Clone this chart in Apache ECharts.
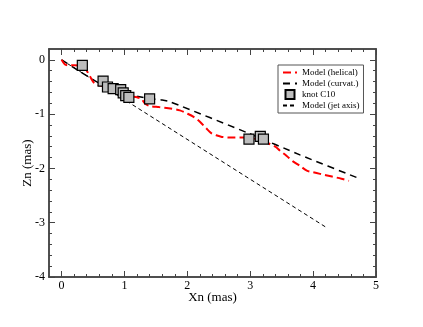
<!DOCTYPE html>
<html><head><meta charset="utf-8">
<script src="https://cdn.jsdelivr.net/npm/echarts@6/dist/echarts.min.js"></script>
<style>html,body{margin:0;padding:0;background:#fff}#c{width:423px;height:327px}</style>
</head><body><div id="c"></div>
<script>
var xMajor = [0, 1, 2, 3, 4, 5];
var xMinor = [0.2, 0.4, 0.6, 0.8, 1.2, 1.4, 1.6, 1.8, 2.2, 2.4, 2.6, 2.8, 3.2, 3.4, 3.6, 3.8, 4.2, 4.4, 4.6, 4.8];
var yMajor = [-4, -3, -2, -1, 0];
var yMinor = [-3.8, -3.6, -3.4, -3.2, -2.8, -2.6, -2.4, -2.2, -1.8, -1.6, -1.4, -1.2, -0.8, -0.6, -0.4, -0.2];

var helical = [[0,0],[0.05,-0.08],[0.1,-0.1],[0.2,-0.1],[0.3,-0.11],[0.37,-0.15],[0.45,-0.3],[0.52,-0.43],[0.6,-0.47],[0.7,-0.49],[0.8,-0.53],[0.9,-0.57],[1.0,-0.63],[1.1,-0.67],[1.2,-0.69],[1.27,-0.72],[1.33,-0.81],[1.4,-0.85],[1.55,-0.87],[1.7,-0.89],[1.88,-0.93],[2.0,-0.99],[2.1,-1.05],[2.2,-1.14],[2.3,-1.26],[2.38,-1.35],[2.46,-1.39],[2.55,-1.42],[2.7,-1.43],[2.9,-1.43],[3.05,-1.45],[3.2,-1.48],[3.31,-1.55],[3.4,-1.6],[3.47,-1.67],[3.58,-1.77],[3.68,-1.87],[3.8,-1.96],[3.9,-2.04],[4.0,-2.07],[4.11,-2.1],[4.3,-2.15],[4.45,-2.19],[4.57,-2.23]];
var curvat = [[0,0],[0.3,-0.22],[0.6,-0.43],[0.8,-0.53],[1.0,-0.61],[1.2,-0.67],[1.4,-0.71],[1.6,-0.74],[1.72,-0.77],[2.99,-1.36],[3.79,-1.75],[4.72,-2.18]];
var jetAxis = [[0,0],[4.2,-3.08]];
var knotX = [0.33, 0.66, 0.73, 0.82, 0.94, 0.98, 1.02, 1.07, 1.40, 2.98, 3.16, 3.21];
var knotY = [-0.10, -0.39, -0.50, -0.53, -0.55, -0.61, -0.66, -0.69, -0.72, -1.46, -1.41, -1.46];
var seriesNames = ['Model (helical)', 'Model (curvat.)', 'knot C10', 'Model (jet axis)'];

var FONT = '"Liberation Serif", "DejaVu Serif", serif';
var axisLineStyle = {color: '#444', width: 1.5};

function xAx(pos, ticks, len, main) {
  return {
    type: 'value', min: -0.2, max: 5, position: pos,
    axisLine: {show: true, onZero: false, lineStyle: axisLineStyle},
    axisTick: {show: true, inside: true, length: len, customValues: ticks, lineStyle: {color: '#444', width: 1}},
    axisLabel: main ? {show: true, customValues: xMajor, margin: 3, fontFamily: FONT, fontSize: 12, color: '#000'} : {show: false},
    splitLine: {show: false},
    name: main ? 'Xn (mas)' : '',
    nameLocation: 'middle', nameGap: 14, nameMoveOverlap: false,
    nameTextStyle: {fontFamily: FONT, fontSize: 13, color: '#000'}
  };
}
function yAx(pos, ticks, len, main) {
  return {
    type: 'value', min: -4, max: 0.2, position: pos,
    axisLine: {show: true, onZero: false, lineStyle: axisLineStyle},
    axisTick: {show: true, inside: true, length: len, customValues: ticks, lineStyle: {color: '#444', width: 1}},
    axisLabel: main ? {show: true, customValues: yMajor, margin: 4, fontFamily: FONT, fontSize: 12, color: '#000'} : {show: false},
    splitLine: {show: false},
    name: main ? 'Zn (mas)' : '',
    nameLocation: 'middle', nameGap: 15, nameMoveOverlap: false,
    nameTextStyle: {fontFamily: FONT, fontSize: 13, color: '#000'}
  };
}

var knots = knotX.map(function (x, i) { return [x, knotY[i]]; });
var hideSym = {opacity: 0, color: 'rgba(0,0,0,0)', borderWidth: 0};

var chart = echarts.init(document.getElementById('c'), null, {renderer: 'canvas'});
chart.setOption({
  animation: false,
  backgroundColor: '#fff',
  grid: {left: 49, right: 47, top: 49, bottom: 50, containLabel: false},
  xAxis: [xAx('bottom', xMajor, 6, true), xAx('bottom', xMinor, 3, false), xAx('top', xMajor, 6, false), xAx('top', xMinor, 3, false)],
  yAxis: [yAx('left', yMajor, 6, true), yAx('left', yMinor, 3, false), yAx('right', yMajor, 6, false), yAx('right', yMinor, 3, false)],
  legend: {
    data: [
      {name: seriesNames[0], itemStyle: hideSym},
      {name: seriesNames[1], itemStyle: hideSym},
      {name: seriesNames[2], icon: 'path://M0 0H10V10H0Z'},
      {name: seriesNames[3], itemStyle: hideSym}
    ],
    orient: 'vertical', left: 278, top: 65,
    padding: [2, 4, 2, 4], itemGap: 0, itemWidth: 14, itemHeight: 9,
    symbolKeepAspect: true,
    backgroundColor: '#fff', borderColor: '#555', borderWidth: 1,
    textStyle: {fontFamily: FONT, fontSize: 9, color: '#000', lineHeight: 11},
    selectedMode: false
  },
  series: [
    {name: seriesNames[3], type: 'line', data: jetAxis, symbol: 'none', xAxisIndex: 0, yAxisIndex: 0,
     lineStyle: {color: '#000', width: 1, type: [4, 3]}, itemStyle: {color: '#000'}, z: 2},
    {name: seriesNames[1], type: 'line', data: curvat, symbol: 'none', smooth: 0.2, xAxisIndex: 0, yAxisIndex: 0,
     lineStyle: {color: '#000', width: 1.5, type: [7, 5]}, itemStyle: {color: '#000'}, z: 3},
    {name: seriesNames[0], type: 'line', data: helical, symbol: 'none', smooth: 0.3, xAxisIndex: 0, yAxisIndex: 0,
     lineStyle: {color: '#ff0000', width: 2, type: [8, 4]}, itemStyle: {color: '#ff0000'}, z: 4},
    {name: seriesNames[2], type: 'scatter', data: knots, symbol: 'rect', symbolSize: 10, xAxisIndex: 0, yAxisIndex: 0,
     itemStyle: {color: '#bdbdbd', borderColor: '#000', borderWidth: 1.2, opacity: 1}, z: 5}
  ]
});
</script></body></html>
